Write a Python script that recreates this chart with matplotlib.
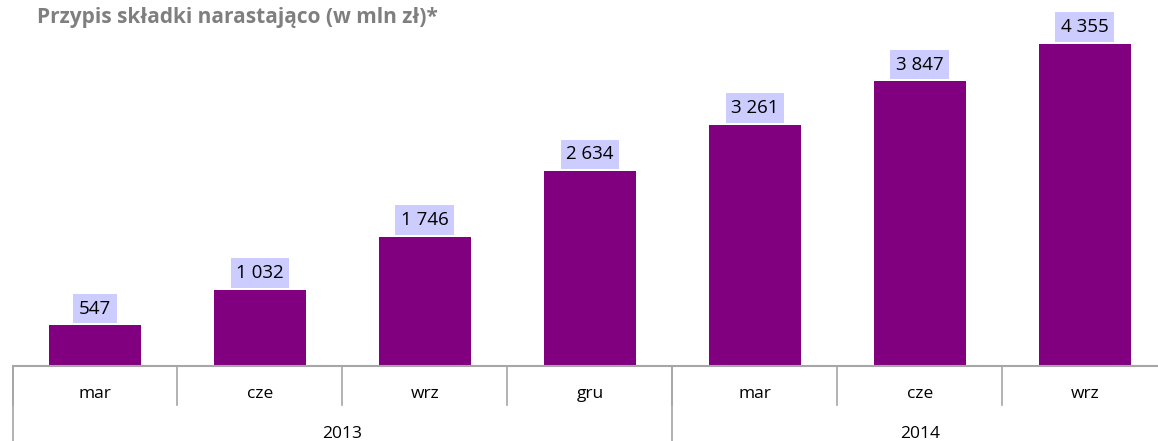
import matplotlib.pyplot as plt
from matplotlib.transforms import blended_transform_factory

months = ['mar', 'cze', 'wrz', 'gru', 'mar', 'cze', 'wrz']
years = ['2013', '2014']
year_counts = [4, 3]
values = [547, 1032, 1746, 2634, 3261, 3847, 4355]

bar_color = '#800080'
box_color = '#CCCCFF'
axis_color = '#A6A6A6'

plt.rcParams['font.family'] = ['Open Sans', 'DejaVu Sans']

W, H = 1158, 441
fig = plt.figure(figsize=(W / 100, H / 100), dpi=100)
# axes: left edge at x=12.5 px, baseline at y=366 px, 165 px per category
ax = fig.add_axes([12.5 / W, (H - 366) / H, 1155 / W, 348 / H])
x = list(range(len(values)))
ax.bar(x, values, width=0.56, color=bar_color)
ax.set_xlim(-0.5, len(values) - 0.5)
ax.set_ylim(0, 4700)
ax.axis('off')

for xi, v in zip(x, values):
    lab = f'{v:,}'.replace(',', ' ')
    ax.annotate(lab, (xi, v), xytext=(0, 5.5), textcoords='offset points',
                ha='center', va='bottom', fontsize=13.5, color='black',
                bbox=dict(boxstyle='square,pad=0.3', fc=box_color, ec='none'))

tr = blended_transform_factory(ax.transData, fig.transFigure)
def fy(px):
    return (H - px) / H

# baseline
ax.plot([-0.5, len(values) - 0.5], [fy(366)] * 2, transform=tr, color=axis_color,
        lw=1.5, clip_on=False)
# category separators
for k in range(len(values) + 1):
    ax.plot([k - 0.5] * 2, [fy(366), fy(405)], transform=tr, color=axis_color,
            lw=1.2, clip_on=False)
# year separators
pos = -0.5
bounds = [pos]
for c in year_counts:
    pos += c
    bounds.append(pos)
for b in bounds:
    ax.plot([b] * 2, [fy(366), fy(441)], transform=tr, color=axis_color,
            lw=1.2, clip_on=False)

for xi, m in zip(x, months):
    ax.text(xi, fy(394), m, transform=tr, ha='center', va='center', fontsize=12.5)
for i, yname in enumerate(years):
    ax.text((bounds[i] + bounds[i + 1]) / 2, fy(434), yname, transform=tr,
            ha='center', va='center', fontsize=12.5)

fig.text(37 / W, fy(18), 'Przypis składki narastająco (w mln zł)*', ha='left',
         va='center', fontsize=15, fontweight='bold', color='#7F7F7F')

fig.savefig('out.png', dpi=100)
